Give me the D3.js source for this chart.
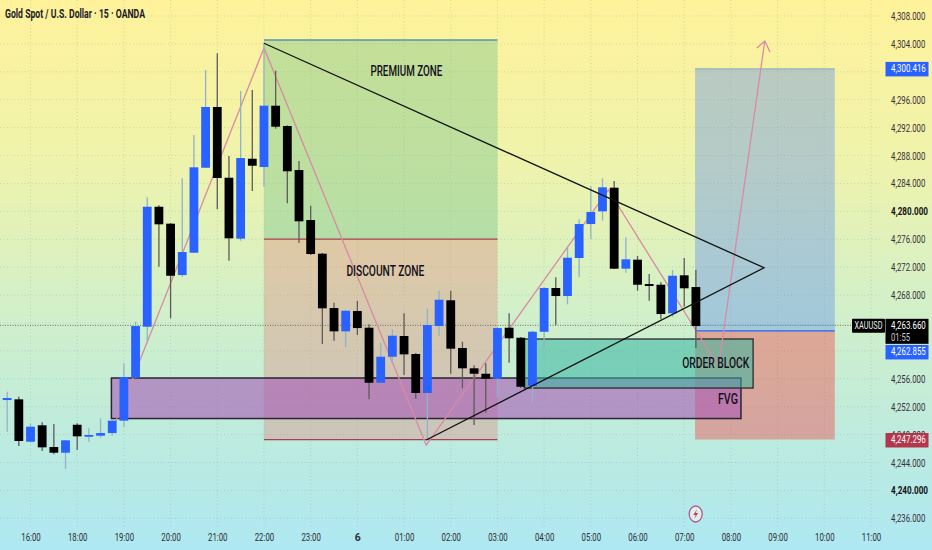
<!DOCTYPE html>
<html><head><meta charset="utf-8">
<script src="https://d3js.org/d3.v7.min.js"></script>
<style>html,body{margin:0;padding:0;background:#fff}svg{display:block}
text{font-family:"Roboto",sans-serif}</style>
</head><body><svg id="c" width="932" height="550"></svg>
<script>
// bar index -2 .. 57 (15 minute bars)
const firstBar = -2;
const opens = [4252.95,4253.05,4246.98,4249.33,4246.22,4245.4,4249.41,4247.69,4247.84,4248.22,4249.99,4256.15,4263.46,4280.66,4278.23,4270.87,4274.07,4286.25,4294.96,4284.82,4276.08,4287.54,4286.35,4295.14,4292.23,4285.92,4278.76,4273.93,4266.14,4262.8,4265.71,4263.32,4255.43,4259.16,4262.13,4259.55,4253.96,4263.56,4267.25,4260.41,4257.5,4256.72,4256.01,4263.32,4261.88,4254.96,4262.74,4269.01,4267.86,4273.31,4278.18,4280.0,4283.39,4271.78,4273.07,4269.58,4269.48,4265.38,4270.83,4269.15];
const highs = [4254.14,4253.43,4249.61,4249.76,4249.51,4247.22,4249.61,4248.9,4250.33,4250.23,4258.21,4264.18,4282.01,4280.86,4278.33,4284.73,4290.94,4300.26,4302.65,4287.93,4297.25,4297.39,4304.13,4300.16,4292.33,4287.21,4280.81,4274.03,4266.9,4265.86,4267.19,4263.81,4261.17,4263.09,4265.38,4259.69,4266.04,4268.62,4268.62,4261.31,4257.93,4258.21,4263.42,4265.38,4261.98,4262.89,4269.15,4270.54,4274.93,4278.86,4283.63,4284.73,4284.35,4276.28,4273.6,4271.02,4269.83,4271.59,4273.31,4271.59];
const lows = [4248.41,4246.36,4246.83,4245.64,4245.17,4243.06,4245.79,4246.98,4247.55,4247.84,4249.08,4256.1,4261.31,4272.06,4264.67,4270.59,4274.03,4286.2,4280.29,4272.92,4275.79,4282.91,4283.53,4291.84,4281.15,4275.46,4273.74,4260.98,4261.45,4260.55,4262.27,4253.05,4255.39,4258.11,4256.54,4253.14,4247.22,4262.17,4256.72,4254.63,4249.37,4251.13,4253.43,4258.3,4254.67,4252.57,4260.31,4263.7,4266.67,4270.54,4275.99,4278.66,4271.73,4271.2,4268.62,4267.19,4264.52,4264.89,4266.33,4260.41];
const closes = [4253.24,4247.08,4249.13,4246.17,4245.4,4247.18,4247.75,4247.94,4248.22,4249.99,4256.25,4263.56,4280.66,4278.14,4270.77,4274.17,4286.31,4294.96,4284.78,4276.13,4287.64,4286.54,4295.14,4292.13,4285.74,4278.57,4273.88,4266.1,4262.8,4265.75,4263.27,4255.43,4259.16,4262.17,4259.5,4253.96,4263.7,4267.33,4260.31,4257.5,4256.72,4256.01,4263.27,4261.8,4254.86,4262.74,4269.01,4267.86,4273.35,4278.18,4279.9,4283.44,4271.78,4273.12,4269.48,4269.3,4265.28,4270.77,4268.97,4263.56];

const priceTicks = d3.range(4236,4309,4);
const hiddenPriceLabels = [4260,4264,4300];
const strongPrices = [4240,4280];
const timeTickBars = d3.range(0,73,4);
const timeLabels = ["16:00","18:00","19:00","20:00","21:00","22:00","23:00","6","01:00","02:00","03:00","04:00","05:00","06:00","07:00","08:00","09:00","10:00","11:00"];

const zoneTop=4304.56, zoneMid=4276.03, zoneBottom=4247.29, zoneStart=20, zoneEnd=40;
const orderBlock=[42.3,61.9,4261.7,4254.67];
const fvg=[6.93,60.86,4256.11,4250.3];
const posStart=56.93, posEnd=68.9, target=4300.416, entry=4262.855, stop=4247.296, last=4263.66;
const zigzag=[[7.31,4249.94],[20,4303.41],[33.9,4246.5],[49.5,4283.06],[58.7,4258.4],[59,4258.4],[62.9,4304.42]];
const arrowHead=[[62.23,4303.41],[62.9,4304.42],[63.35,4302.84]];
const triangle=[[20,4304.09],[62.83,4271.92],[33.9,4247.22]];

const svg=d3.select("#c");
const x=d3.scaleLinear().domain([0,72]).range([30.5,871]);
const y=d3.scaleLinear().domain([4308,4236]).range([16,518.3]);
const X=v=>x(v),Y=v=>y(v);
const fit=(sel,w)=>sel.attr("textLength",w).attr("lengthAdjust","spacingAndGlyphs");

const defs=svg.append("defs");
const g=defs.append("linearGradient").attr("id","bg").attr("x1",0).attr("x2",0).attr("y1",0).attr("y2",1);
[[0,"#fff29a"],[.3,"#eef3ac"],[.55,"#d3f0c8"],[.8,"#bdebdf"],[1,"#aee8f2"]].forEach(s=>g.append("stop").attr("offset",s[0]).attr("stop-color",s[1]));
svg.append("rect").attr("width",932).attr("height",550).attr("fill","url(#bg)");

// grid
const grid=svg.append("g").attr("stroke","#7f9f8a").attr("stroke-opacity",.32).attr("stroke-dasharray","1 2.5");
grid.selectAll("line.h").data(priceTicks).join("line").attr("x1",0).attr("x2",881).attr("y1",Y).attr("y2",Y);
grid.selectAll("line.v").data(timeTickBars).join("line").attr("y1",0).attr("y2",527).attr("x1",X).attr("x2",X);

// zones
const rect=(x0,x1,p0,p1)=>svg.append("rect").attr("x",X(x0)).attr("width",X(x1)-X(x0)).attr("y",Y(p0)).attr("height",Y(p1)-Y(p0));
const hline=(x0,x1,p,c,w)=>svg.append("line").attr("x1",X(x0)).attr("x2",X(x1)).attr("y1",Y(p)).attr("y2",Y(p)).attr("stroke",c).attr("stroke-width",w);
rect(zoneStart,zoneEnd,zoneTop,zoneMid).attr("fill","#80c890").attr("fill-opacity",.45);
rect(zoneStart,zoneEnd,zoneMid,zoneBottom).attr("fill","#e08a80").attr("fill-opacity",.38);
hline(zoneStart,zoneEnd,zoneTop,"#5b8fb5",1.6);
hline(zoneStart,zoneEnd,zoneMid,"#a8404f",1.2);
hline(zoneStart,zoneEnd,zoneBottom,"#a8404f",1.2);

// position
rect(posStart,posEnd,target,entry).attr("fill","#5f8ff0").attr("fill-opacity",.4);
rect(posStart,posEnd,entry,stop).attr("fill","#f53c41").attr("fill-opacity",.4);
hline(posStart,posEnd,target,"#7fa6bf",1);

// fvg, order block
rect(fvg[0],fvg[1],fvg[2],fvg[3]).attr("fill","#a75ab7").attr("fill-opacity",.6).attr("stroke","#2a2530").attr("stroke-width",1.5);
rect(orderBlock[0],orderBlock[1],orderBlock[2],orderBlock[3]).attr("fill","#36b6a0").attr("fill-opacity",.55).attr("stroke","#2a2a2a").attr("stroke-width",1.3);

// last price + entry lines
svg.append("line").attr("x1",0).attr("x2",852).attr("y1",Y(last)).attr("y2",Y(last)).attr("stroke","#6a6a6a").attr("stroke-width",1).attr("stroke-dasharray","1 1.5");
hline(posStart,posEnd,last,"#7ab0b8",1.4).attr("stroke-opacity",.6);
hline(posStart,posEnd,entry,"#2962ff",1.2);

// pink lines behind candles
const line=d3.line().x(d=>X(d[0])).y(d=>Y(d[1]));
svg.append("path").attr("d",line(zigzag)).attr("fill","none").attr("stroke","#d98aa4").attr("stroke-width",1.3);
svg.append("path").attr("d",line(arrowHead)).attr("fill","none").attr("stroke","#d98aa4").attr("stroke-width",1.3);

// candles
const bars=opens.map((o,i)=>({i:i+firstBar,o,h:highs[i],l:lows[i],c:closes[i]}));
const bw=8.8;
const cg=svg.append("g");
cg.selectAll("line").data(bars).join("line")
 .attr("x1",d=>X(d.i)).attr("x2",d=>X(d.i)).attr("y1",d=>Y(d.h)).attr("y2",d=>Y(d.l))
 .attr("stroke",d=>d.c>=d.o?"#8fb3c9":"#5f5a5c").attr("stroke-width",1.3);
cg.selectAll("rect").data(bars).join("rect")
 .attr("x",d=>X(d.i)-bw/2).attr("width",bw)
 .attr("y",d=>Y(Math.max(d.o,d.c))).attr("height",d=>Math.max(1.5,Math.abs(Y(d.o)-Y(d.c))))
 .attr("fill",d=>d.c>=d.o?"#2962ff":"#000");

// triangle
svg.append("path").attr("d",line(triangle)).attr("fill","none").attr("stroke","#111").attr("stroke-width",1.3);

// annotations
const note=(t,bar,p,w)=>fit(svg.append("text").text(t).attr("x",X(bar)).attr("y",Y(p)).attr("text-anchor","middle").attr("dominant-baseline","central").attr("font-size",14).attr("font-weight",500).attr("fill","#140f1a"),w);
note("PREMIUM ZONE",32.2,4300.1,72);
note("DISCOUNT ZONE",30.4,4271.4,78);
note("ORDER BLOCK",58.7,4258.26,67);
note("FVG",59.75,4253.1,20);
fit(svg.append("text").text("Gold Spot / U.S. Dollar · 15 · OANDA").attr("x",5).attr("y",18).attr("font-size",12).attr("font-weight",700).attr("fill","#1c1a28"),140);

// axes
const yAxis=d3.axisRight(y).tickValues(priceTicks.filter(p=>!hiddenPriceLabels.includes(p))).tickSize(0).tickPadding(0).tickFormat(d3.format(",.3f"));
const ya=svg.append("g").attr("transform","translate(891,0)").call(yAxis);
ya.select(".domain").remove();
ya.selectAll("text").attr("font-size",11).attr("fill",d=>strongPrices.includes(d)?"#111":"#3a2f3a").attr("font-weight",d=>strongPrices.includes(d)?700:400)
  .attr("textLength",d=>strongPrices.includes(d)?37:34.3).attr("lengthAdjust","spacingAndGlyphs");
const xAxis=d3.axisBottom(x).tickValues(timeTickBars).tickSize(0).tickPadding(0).tickFormat((d,i)=>timeLabels[i]);
const xa=svg.append("g").attr("transform","translate(0,533.5)").call(xAxis);
xa.select(".domain").remove();
xa.selectAll("text").attr("font-size",11).attr("fill","#2f2f35").attr("font-weight",d=>d===28?700:400)
  .attr("textLength",d=>d===28?6:19.5).attr("lengthAdjust","spacingAndGlyphs");

// price tags (shift = label displaced from its price by the neighbouring tag)
const tag=(p,shift,h,c,t)=>{const cy=Y(p)+shift;
 svg.append("rect").attr("x",885.5).attr("y",cy-7).attr("width",43).attr("height",h).attr("fill",c);
 fit(svg.append("text").text(t).attr("x",891).attr("y",cy).attr("dominant-baseline","central").attr("font-size",11).attr("fill","#fff"),34.8);};
tag(last,0.5,25,"#000",d3.format(",.3f")(last));
fit(svg.append("text").text("01:55").attr("x",891).attr("y",Y(last)+12).attr("dominant-baseline","central").attr("font-size",11).attr("fill","#ccc"),19);
tag(target,0,14.5,"#2962ff",d3.format(",.3f")(target));
tag(entry,21,14.5,"#2962ff",d3.format(",.3f")(entry));
tag(stop,0.5,14.5,"#b2364c",d3.format(",.3f")(stop));
svg.append("rect").attr("x",852).attr("y",Y(last)-6.5).attr("width",33).attr("height",14).attr("rx",1).attr("fill","#000");
fit(svg.append("text").text("XAUUSD").attr("x",868.5).attr("y",Y(last)+.5).attr("text-anchor","middle").attr("dominant-baseline","central").attr("font-size",11).attr("fill","#eee"),28);

// lightning
const ico=svg.append("g").attr("transform","translate(695.7,514)");
ico.append("ellipse").attr("rx",6.5).attr("ry",8).attr("fill","#e0f0e4").attr("stroke","#b0589c").attr("stroke-width",1.3);
ico.append("path").attr("d","M1.5,-5 L-2.5,1 L0,1 L-1.5,5 L2.5,-1 L0,-1 Z").attr("fill","#c23a6c");
</script></body></html>
